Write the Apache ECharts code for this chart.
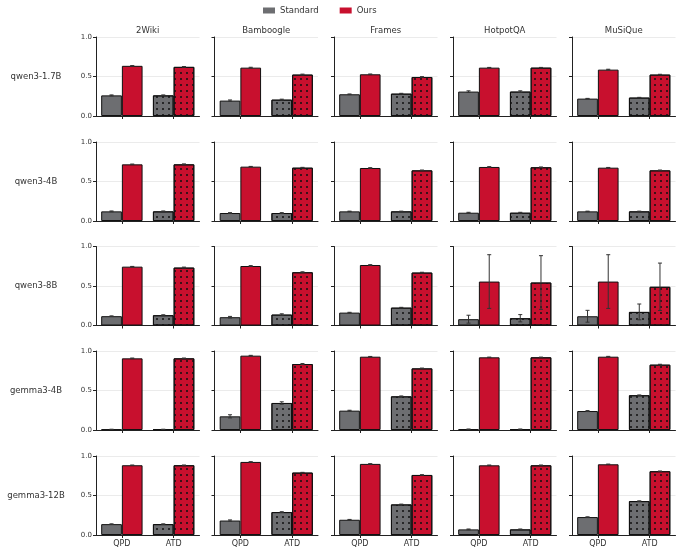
<!DOCTYPE html>
<html>
<head>
<meta charset="utf-8">
<script src="https://cdn.jsdelivr.net/npm/echarts@6/dist/echarts.min.js"></script>
<style>
  html, body { margin: 0; padding: 0; background: #fff; }
  #chart { width: 683px; height: 553px; }
</style>
</head>
<body>
<div id="chart"></div>
<script>
const models = ['qwen3-1.7B', 'qwen3-4B', 'qwen3-8B', 'gemma3-4B', 'gemma3-12B'];
const datasets = ['2Wiki', 'Bamboogle', 'Frames', 'HotpotQA', 'MuSiQue'];
const methods = ['QPD', 'ATD'];
const yTicks = [0, 0.5, 1.0];

// [model][dataset] = [QPD, ATD]
const standard = [
  [[0.261, 0.261], [0.195, 0.207], [0.275, 0.283], [0.309, 0.309], [0.22, 0.233]],
  [[0.122, 0.122], [0.101, 0.101], [0.122, 0.122], [0.105, 0.105], [0.122, 0.122]],
  [[0.118, 0.13], [0.105, 0.138], [0.163, 0.226], [0.08, 0.092], [0.117, 0.172]],
  [[0.008, 0.008], [0.173, 0.342], [0.245, 0.426], [0.01, 0.01], [0.24, 0.44]],
  [[0.1375, 0.1375], [0.183, 0.29], [0.193, 0.387], [0.071, 0.071], [0.227, 0.429]]
];
const ours = [
  [[0.635, 0.622], [0.612, 0.524], [0.528, 0.494], [0.612, 0.612], [0.587, 0.524]],
  [[0.717, 0.717], [0.688, 0.675], [0.671, 0.641], [0.684, 0.68], [0.675, 0.641]],
  [[0.745, 0.733], [0.753, 0.674], [0.766, 0.67], [0.556, 0.544], [0.556, 0.49]],
  [[0.907, 0.907], [0.941, 0.835], [0.928, 0.78], [0.92, 0.92], [0.928, 0.827]],
  [[0.883, 0.883], [0.925, 0.79], [0.9, 0.76], [0.882, 0.882], [0.895, 0.807]]
];
const standardErr = [
  [[0.006, 0.006], [0.008, 0.006], [0.004, 0.004], [0.01, 0.01], [0.003, 0.003]],
  [[0.005, 0.005], [0.005, 0.005], [0.003, 0.003], [0.005, 0.005], [0.003, 0.003]],
  [[0.004, 0.006], [0.01, 0.01], [0.004, 0.004], [0.05, 0.046], [0.075, 0.1]],
  [[0.002, 0.002], [0.02, 0.015], [0.005, 0.005], [0.002, 0.002], [0.006, 0.004]],
  [[0.004, 0.004], [0.008, 0.005], [0.004, 0.004], [0.005, 0.005], [0.003, 0.003]]
];
const oursErr = [
  [[0.003, 0.004], [0.005, 0.006], [0.004, 0.004], [0.003, 0.003], [0.005, 0.004]],
  [[0.004, 0.006], [0.003, 0.004], [0.004, 0.004], [0.004, 0.004], [0.003, 0.004]],
  [[0.003, 0.006], [0.005, 0.006], [0.004, 0.004], [0.34, 0.34], [0.34, 0.3]],
  [[0.004, 0.004], [0.004, 0.006], [0.003, 0.004], [0.003, 0.003], [0.004, 0.005]],
  [[0.003, 0.003], [0.003, 0.003], [0.003, 0.003], [0.004, 0.004], [0.003, 0.003]]
];

const GRAY = '#6d6e71';
const RED = '#c8102e';
const FONT = 'DejaVu Sans';

const colLeft = [96, 214.5, 334, 453, 572];
const rowTop = [37, 142, 246.5, 351, 456];
const gw = 103.5, gh = 79;

const dots = {
  symbol: 'circle',
  symbolSize: 1,
  color: '#111',
  dashArrayX: [2, 4],
  dashArrayY: [2, 4]
};

const grid = [], xAxis = [], yAxis = [], series = [], graphic = [];

function errorSeries(idx, vals, errs, side) {
  return {
    type: 'custom',
    xAxisIndex: idx,
    yAxisIndex: idx,
    z: 5,
    silent: true,
    data: vals.map((v, i) => [i, v, errs[i]]),
    renderItem: function (params, api) {
      const x = api.value(0), y = api.value(1), e = api.value(2);
      const bw = api.size([1, 0])[0] * 0.8 / 2;
      const cx = api.coord([x, y])[0] + side * bw / 2;
      const top = api.coord([x, y + e])[1];
      const bot = api.coord([x, y - e])[1];
      const st = { stroke: '#333', lineWidth: 1 };
      return {
        type: 'group',
        children: [
          { type: 'line', shape: { x1: cx, y1: top, x2: cx, y2: bot }, style: st },
          { type: 'line', shape: { x1: cx - 2, y1: top, x2: cx + 2, y2: top }, style: st },
          { type: 'line', shape: { x1: cx - 2, y1: bot, x2: cx + 2, y2: bot }, style: st }
        ]
      };
    }
  };
}

models.forEach((m, r) => {
  datasets.forEach((d, c) => {
    const idx = r * datasets.length + c;
    grid.push({ left: colLeft[c], top: rowTop[r], width: gw, height: gh });
    xAxis.push({
      type: 'category',
      gridIndex: idx,
      data: methods,
      axisLine: { lineStyle: { color: '#222', width: 1 } },
      axisTick: { show: true, alignWithLabel: true, length: 3, lineStyle: { color: '#222' } },
      axisLabel: { show: r === models.length - 1, fontSize: 8, color: '#333', fontFamily: FONT, margin: 5 }
    });
    yAxis.push({
      type: 'value',
      gridIndex: idx,
      min: 0,
      max: 1,
      interval: 0.5,
      axisLine: { show: true, lineStyle: { color: '#222', width: 1 } },
      axisTick: { show: true, length: 3, lineStyle: { color: '#222' } },
      splitLine: { show: true, lineStyle: { color: '#ebebeb', width: 1 } },
      axisLabel: {
        show: c === 0, fontSize: 7, color: '#333', fontFamily: FONT, margin: 4,
        formatter: v => v.toFixed(1)
      }
    });
    const stdVals = standard[r][c], ourVals = ours[r][c];
    series.push({
      name: 'Standard',
      type: 'bar',
      xAxisIndex: idx,
      yAxisIndex: idx,
      barGap: '0%',
      barCategoryGap: '20%',
      itemStyle: { color: GRAY, borderColor: '#111', borderWidth: 1 },
      data: stdVals.map((v, i) => i === 1 ? { value: v, itemStyle: { decal: dots } } : v)
    });
    series.push({
      name: 'Ours',
      type: 'bar',
      xAxisIndex: idx,
      yAxisIndex: idx,
      barGap: '0%',
      barCategoryGap: '20%',
      itemStyle: { color: RED, borderColor: '#111', borderWidth: 1 },
      data: ourVals.map((v, i) => i === 1 ? { value: v, itemStyle: { decal: dots } } : v)
    });
    series.push(errorSeries(idx, stdVals, standardErr[r][c], -1));
    series.push(errorSeries(idx, ourVals, oursErr[r][c], 1));

    if (r === 0) {
      graphic.push({
        type: 'text', x: colLeft[c] + gw / 2, y: 31,
        style: { text: d, font: '8.5px "DejaVu Sans"', fill: '#333', textAlign: 'center', textVerticalAlign: 'middle' }
      });
    }
  });
  graphic.push({
    type: 'text', x: 36, y: rowTop[r] + gh / 2,
    style: { text: m, font: '8.5px "DejaVu Sans"', fill: '#333', textAlign: 'center', textVerticalAlign: 'middle' }
  });
});

const chart = echarts.init(document.getElementById('chart'));
chart.setOption({
  animation: false,
  legend: {
    data: ['Standard', 'Ours'],
    left: 258,
    top: 1,
    icon: 'rect',
    itemWidth: 12,
    itemHeight: 6,
    itemGap: 21,
    itemStyle: { borderWidth: 0 },
    textStyle: { fontSize: 8.5, color: '#333', fontFamily: FONT },
    selectedMode: false
  },
  graphic: graphic,
  grid: grid,
  xAxis: xAxis,
  yAxis: yAxis,
  series: series
});
</script>
</body>
</html>
